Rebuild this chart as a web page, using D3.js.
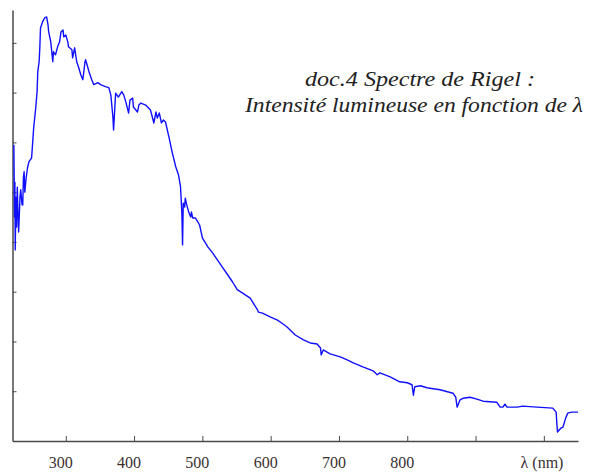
<!DOCTYPE html>
<html>
<head>
<meta charset="utf-8">
<script src="https://cdn.jsdelivr.net/npm/d3@7"></script>
<style>
  body { margin: 0; background: #fff; }
  .axis path, .axis line { stroke: #4a4a4a; }
  .tick-label { font-family: "Liberation Serif", "Times New Roman", serif; font-size: 16px; fill: #3a3030; }
  .title { font-family: "Liberation Serif", "Times New Roman", serif; font-style: italic; font-size: 22px; fill: #222; }
</style>
</head>
<body>
<svg id="chart"></svg>
<script>
// wavelength (nm)
const lambda = [224, 225, 225.5, 226, 227, 228, 229, 230, 231, 233, 234, 236, 237, 238, 239, 240, 242, 244, 246,
  250, 252, 253, 256, 258, 259, 261, 262, 263, 266, 269, 272, 274, 275, 278, 281, 282, 285, 288, 291, 293, 296, 297,
  300, 303, 304, 309, 310, 313, 316, 319, 322, 325, 328, 329, 332, 334, 338, 341, 347, 351, 358, 363,
  366, 369, 370, 373, 377, 382, 385, 388, 392, 394, 398, 399, 405, 407, 410, 417, 424, 429, 432, 434, 437, 440,
  443, 446, 451, 456, 461, 465, 468, 470, 471, 472, 474, 475, 477, 478, 480, 483, 484, 486, 490, 496, 500,
  508, 515, 522, 529, 537, 544, 551, 559, 570, 581, 582, 588, 600, 610, 614, 624, 636, 648, 658, 668, 673,
  674, 677, 687, 702, 712, 721, 735, 750, 756, 760, 775, 789, 800, 807, 809, 811, 819, 829, 838, 848, 867,
  871, 873, 877, 882, 892, 902, 911, 931, 936, 940, 943, 946, 961, 969, 990, 1013, 1018, 1019, 1020, 1025,
  1028, 1032, 1035, 1041, 1050];

// intensity (arbitrary units, one unit per y tick)
const intensity = [5.95, 4.5, 5.2, 3.84, 4.9, 4.3, 5.1, 4.6, 4.2, 4.9, 5.05, 4.75, 4.74, 5.3, 5.41, 5.0, 5.29, 5.49, 5.61,
  5.69, 6.09, 6.29, 6.69, 7.02, 7.42, 7.62, 7.9, 8.3, 8.42, 8.5, 8.52, 8.36, 8.22, 8.02, 7.62, 7.82, 7.76, 7.92, 8.02, 8.22, 8.26, 8.12,
  8.16, 8.02, 7.92, 7.86, 7.7, 7.9, 7.62, 7.5, 7.36, 7.26, 7.6, 7.66, 7.52, 7.42, 7.26, 7.16, 7.2, 7.16, 7.12, 7.1,
  6.95, 6.51, 6.25, 6.99, 6.91, 7.02, 6.95, 6.81, 6.59, 6.85, 6.89, 6.71, 6.61, 6.75, 6.79, 6.75, 6.65, 6.39, 6.61, 6.49, 6.59, 6.39,
  6.45, 6.41, 6.11, 5.79, 5.51, 5.35, 5.11, 4.58, 3.94, 4.78, 4.7, 4.88, 4.75, 4.7, 4.6, 4.5, 4.6, 4.48, 4.48, 4.34, 4.08,
  3.9, 3.78, 3.64, 3.5, 3.34, 3.2, 3.04, 2.97, 2.87, 2.63, 2.59, 2.57, 2.49, 2.43, 2.39, 2.29, 2.13, 2.03, 1.97, 1.95, 1.87,
  1.73, 1.83, 1.75, 1.69, 1.63, 1.57, 1.49, 1.41, 1.33, 1.37, 1.29, 1.19, 1.17, 1.13, 0.92, 1.09, 1.11, 1.07, 1.05, 1.03, 0.96,
  0.88, 0.68, 0.82, 0.86, 0.88, 0.84, 0.8, 0.78, 0.68, 0.68, 0.74, 0.68, 0.68, 0.7, 0.68, 0.66, 0.58, 0.36, 0.18, 0.26,
  0.28, 0.46, 0.56, 0.58, 0.58];

const xTicks = [300, 400, 500, 600, 700, 800, 900, 1000];
const xTickLabels = ["300", "400", "500", "600", "700", "800"];
const yTicks = [1, 2, 3, 4, 5, 6, 7, 8];
const titleLines = ["doc.4 Spectre de Rigel :", "Intensité lumineuse en fonction de λ"];

const width = 602, height = 472;
const svg = d3.select("#chart").attr("width", width).attr("height", height);

const x = d3.scaleLinear().domain([222, 1050]).range([12.5, 578]);
const y = d3.scaleLinear().domain([0, 8.66]).range([441, 10]);

// axes
const xAxis = svg.append("g")
    .attr("class", "axis")
    .attr("transform", "translate(0,441)")
    .call(d3.axisTop(x).tickValues(xTicks).tickSize(5).tickSizeOuter(0).tickFormat(""));
xAxis.select(".domain").attr("stroke-width", 1.5);

const yAxis = svg.append("g")
    .attr("class", "axis")
    .attr("transform", "translate(12.5,0)")
    .call(d3.axisRight(y).tickValues(yTicks).tickSize(4).tickSizeOuter(0).tickFormat(""));
yAxis.select(".domain").attr("stroke-width", 1.5);

svg.selectAll(".xlab")
    .data(xTickLabels)
    .enter()
    .append("text")
    .attr("class", "tick-label")
    .attr("x", d => x(+d) - 5)
    .attr("y", 468)
    .attr("text-anchor", "middle")
    .text(d => d);

svg.append("text")
    .attr("class", "tick-label")
    .attr("x", 542)
    .attr("y", 468)
    .attr("text-anchor", "middle")
    .text("λ (nm)");

// spectrum
const line = d3.line()
    .x((d, i) => x(lambda[i]))
    .y(d => y(d));

svg.append("path")
    .datum(intensity)
    .attr("d", line)
    .attr("fill", "none")
    .attr("stroke", "#1010ff")
    .attr("stroke-width", 1.4)
    .attr("stroke-linejoin", "round");

// title, stretched to the width seen in the picture
const titleX = [305, 245];
const titleW = [230, 338];
svg.selectAll(".title")
    .data(titleLines)
    .enter()
    .append("text")
    .attr("class", "title")
    .attr("x", (d, i) => titleX[i])
    .attr("y", (d, i) => 86 + i * 26)
    .attr("textLength", (d, i) => titleW[i])
    .attr("lengthAdjust", "spacingAndGlyphs")
    .text(d => d);
</script>
</body>
</html>
